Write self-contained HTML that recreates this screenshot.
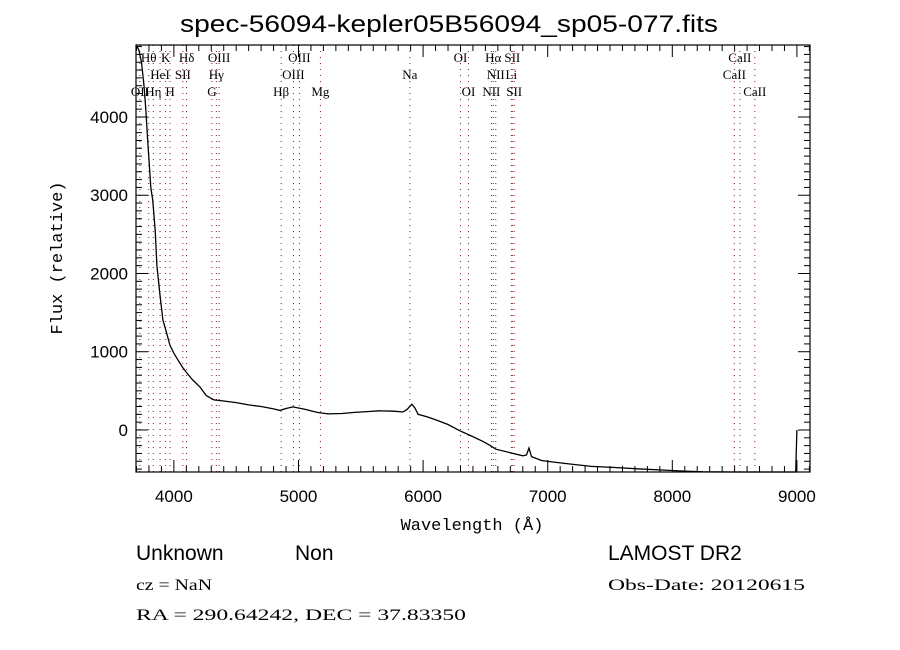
<!DOCTYPE html>
<html><head><meta charset="utf-8"><style>
html,body{margin:0;padding:0;background:#fff;}
svg{display:block;font-family:"Liberation Sans",sans-serif;}
</style></head><body>
<svg id="chart" width="900" height="650" viewBox="0 0 900 650">
<text x="180" y="32" font-size="24" textLength="538" lengthAdjust="spacingAndGlyphs" font-family="Liberation Sans, sans-serif">spec-56094-kepler05B56094_sp05-077.fits</text>
<g id="lines"></g>
<g id="ticks"></g>
<path id="spec" fill="none" stroke="#000" stroke-width="1.3"/>
<rect x="136" y="45" width="674" height="427" fill="none" stroke="#000" stroke-width="1.2"/>
<text x="472" y="530" font-size="17" text-anchor="middle" font-family="Liberation Mono, monospace">Wavelength (Å)</text>
<text transform="translate(62,258) rotate(-90)" font-size="17" text-anchor="middle" font-family="Liberation Mono, monospace">Flux (relative)</text>
<text x="136" y="560" font-size="21" font-family="Liberation Sans, sans-serif">Unknown</text>
<text x="295" y="560" font-size="21" font-family="Liberation Sans, sans-serif">Non</text>
<text x="608" y="560" font-size="21" font-family="Liberation Sans, sans-serif">LAMOST DR2</text>
<text x="136" y="590" font-size="16" textLength="76" lengthAdjust="spacingAndGlyphs" font-family="Liberation Serif, serif">cz = NaN</text>
<text x="608" y="590" font-size="16" textLength="197" lengthAdjust="spacingAndGlyphs" font-family="Liberation Serif, serif">Obs-Date: 20120615</text>
<text x="136" y="620" font-size="16" textLength="330" lengthAdjust="spacingAndGlyphs" font-family="Liberation Serif, serif">RA = 290.64242, DEC =  37.83350</text>
</svg>
<script>
const wave = [3705,3720,3740,3760,3775,3790,3800,3815,3830,3850,3864,3890,3912,3940,3968,4000,4032,4070,4104,4150,4209,4260,4321,4400,4500,4600,4700,4800,4851,4900,4955,5050,5150,5236,5350,5450,5550,5650,5766,5838,5870,5910,5935,5960,6040,6119,6200,6295,6380,6472,6530,6584,6700,6800,6830,6850,6870,6950,7050,7178,7350,7540,7700,7893,8100,8245,8500,8800,8950,8985,8990,9000];
const flux = [4900,4850,4700,4400,4100,3700,3450,3100,2940,2550,2100,1700,1405,1250,1086,980,895,800,730,640,550,440,385,370,350,320,300,270,250,275,295,265,225,205,210,225,235,245,240,230,260,330,280,200,165,120,70,-10,-70,-140,-190,-245,-290,-330,-320,-230,-340,-390,-410,-435,-465,-480,-495,-510,-525,-535,-538,-540,-540,-540,-540,0];
const lineWave = [3727,3798,3835,3889,3934,3969,4072,4102,4305,4341,4363,4861,4959,5007,5176,5894,6300,6364,6548,6563,6583,6708,6716,6731,8498,8542,8662];
const lineName = ["OII","Hθ","Hη","HeI","K","H","SII","Hδ","G","Hγ","OIII","Hβ","OIII","OIII","Mg","Na","OI","OI","NII","Hα","NII","Li","SII","SII","CaII","CaII","CaII"];
const lineRow = [2,0,2,1,0,2,1,0,2,1,0,2,1,0,2,1,0,2,2,0,1,1,0,2,1,0,2];
const xTicks = [4000,5000,6000,7000,8000,9000];
const yTicks = [0,1000,2000,3000,4000];

const X0=136,X1=810,Y0=45,Y1=472;
const xmin=3696, xmax=9105, ymin=-537, ymax=4920;
const sx = w => X0 + (w-xmin)/(xmax-xmin)*(X1-X0);
const sy = f => Y1 - (f-ymin)/(ymax-ymin)*(Y1-Y0);
const NS="http://www.w3.org/2000/svg";
function mk(tag, attrs, parent){const e=document.createElementNS(NS,tag);for(const k in attrs)e.setAttribute(k,attrs[k]);parent.appendChild(e);return e;}

let d="";
for(let i=0;i<wave.length;i++){
  const yy=Math.max(Y0,Math.min(Y1,sy(flux[i])));
  d+=(i?"L":"M")+sx(wave[i]).toFixed(1)+","+yy.toFixed(1);
}
document.getElementById("spec").setAttribute("d",d);

const lg=document.getElementById("lines");
const rowY=[62,79,96];
for(let i=0;i<lineWave.length;i++){
  const x=sx(lineWave[i]);
  const l=mk("line",{x1:x,x2:x,y1:Y0,y2:Y1,stroke:"#8b1a1a","stroke-width":1,"stroke-dasharray":"1,5"},lg);
  
  
  const t=mk("text",{x:x,y:rowY[lineRow[i]],"font-size":13,"text-anchor":"middle","font-family":"Liberation Serif, serif"},lg);
  t.textContent=lineName[i];
  
  
}

const tg=document.getElementById("ticks");
for(let w=3700; w<=9100; w+=100){
  const x=sx(w), major=(w%1000===0), len=major?12:6;
  mk("line",{x1:x,x2:x,y1:Y1,y2:Y1-len,stroke:"#000"},tg);
  mk("line",{x1:x,x2:x,y1:Y0,y2:Y0+len,stroke:"#000"},tg);
}
xTicks.forEach(v=>{
  const t=mk("text",{x:sx(v),y:Y1+30,"font-size":17,"text-anchor":"middle"},tg);
  t.textContent=v;
  
  
});
for(let f=-500; f<=4900; f+=100){
  const y=sy(f), major=(f%1000===0), len=major?12:6;
  mk("line",{x1:X0,x2:X0+len,y1:y,y2:y,stroke:"#000"},tg);
  mk("line",{x1:X1,x2:X1-len,y1:y,y2:y,stroke:"#000"},tg);
}
yTicks.forEach(v=>{
  const t=mk("text",{x:X0-8,y:sy(v)+6,"font-size":17,"text-anchor":"end"},tg);
  t.textContent=v;
  
  
});
</script>
</body></html>
